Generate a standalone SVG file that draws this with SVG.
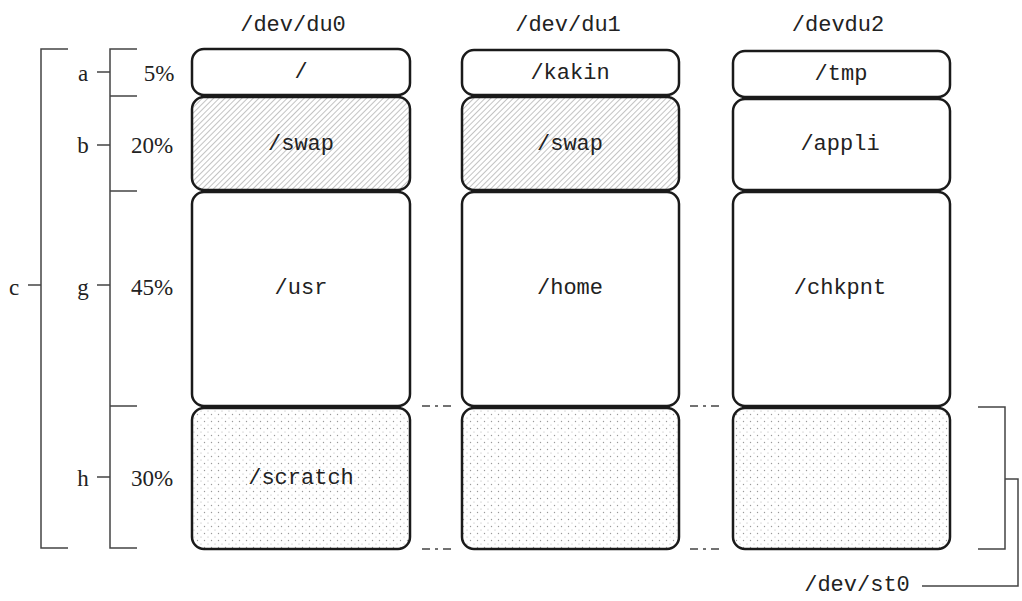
<svg xmlns="http://www.w3.org/2000/svg" width="1022" height="601" viewBox="0 0 1022 601">
<style>
text{font-family:"Liberation Mono","DejaVu Sans Mono",monospace;font-size:22px;fill:#222;text-anchor:middle;dominant-baseline:central}
text.ser{font-family:"Liberation Serif","DejaVu Serif",serif;font-size:23px}
.box{stroke:#1a1a1a;stroke-width:2.5;fill:#fff}
.hatch{fill:url(#hatch)}
.dots{fill:url(#dots)}
.ln{stroke:#444;stroke-width:1.5;fill:none}
.dash{stroke:#444;stroke-width:1.5;fill:none;stroke-dasharray:8 5 3 5}
</style>
<defs>
<pattern id="hatch" width="4" height="4" patternUnits="userSpaceOnUse" patternTransform="rotate(45)">
<rect width="4" height="4" fill="#fff"/>
<line x1="0" y1="0" x2="0" y2="4" stroke="#7a7a7a" stroke-width="0.9"/>
</pattern>
<pattern id="dots" width="7" height="7" patternUnits="userSpaceOnUse">
<rect width="7" height="7" fill="#fff"/>
<circle cx="1.5" cy="1.5" r="0.7" fill="#9a9a9a"/>
<circle cx="5" cy="5" r="0.6" fill="#b0b0b0"/>
</pattern>
</defs>

<g id="titles">
<text x="293" y="25">/dev/du0</text>
<text x="568" y="25">/dev/du1</text>
<text x="838" y="25">/devdu2</text>
</g>

<g id="labels">
<text class="ser" x="83" y="73">a</text>
<text class="ser" x="159" y="73">5%</text>
<text class="ser" x="83" y="145">b</text>
<text class="ser" x="152" y="145">20%</text>
<text class="ser" x="14" y="287">c</text>
<text class="ser" x="83" y="287">g</text>
<text class="ser" x="152" y="287">45%</text>
<text class="ser" x="83" y="478">h</text>
<text class="ser" x="152" y="478">30%</text>
</g>

<g id="connectors">
<path class="ln" d="M68 49 H41 V548 H68"/>
<path class="ln" d="M28 285 H41"/>
<path class="ln" d="M137 49 H110 V548 H137"/>
<path class="ln" d="M110 96 H137 M110 191 H137 M110 406 H137"/>
<path class="ln" d="M97 72 H110 M97 145 H110 M97 285 H110 M97 477 H110"/>
<path class="dash" d="M422 406 H452 M690 406 H720 M422 549 H452 M690 549 H720"/>
<path class="ln" d="M978 407 H1005 V549 H978 M1005 479 H1018 V586 H922"/>
</g>

<g id="du0-root"><rect class="box" x="192" y="49" width="218" height="46" rx="12"/><text x="301" y="72">/</text></g>
<g id="du0-swap"><rect class="box hatch" x="192" y="97" width="218" height="93" rx="12"/><text x="301" y="144">/swap</text></g>
<g id="du0-usr"><rect class="box" x="192" y="192" width="218" height="214" rx="12"/><text x="301" y="288">/usr</text></g>
<g id="du0-scratch"><rect class="box dots" x="192" y="408" width="218" height="141" rx="12"/><text x="301" y="478">/scratch</text></g>

<g id="du1-kakin"><rect class="box" x="462" y="50" width="217" height="45" rx="12"/><text x="570" y="73">/kakin</text></g>
<g id="du1-swap"><rect class="box hatch" x="462" y="97" width="217" height="93" rx="12"/><text x="570" y="144">/swap</text></g>
<g id="du1-home"><rect class="box" x="462" y="192" width="217" height="214" rx="12"/><text x="570" y="288">/home</text></g>
<g id="du1-h"><rect class="box dots" x="462" y="408" width="217" height="141" rx="12"/></g>

<g id="du2-tmp"><rect class="box" x="733" y="51" width="217" height="46" rx="12"/><text x="841" y="74">/tmp</text></g>
<g id="du2-appli"><rect class="box" x="733" y="99" width="217" height="91" rx="12"/><text x="840" y="144">/appli</text></g>
<g id="du2-chkpnt"><rect class="box" x="733" y="192" width="217" height="214" rx="12"/><text x="840" y="288">/chkpnt</text></g>
<g id="du2-h"><rect class="box dots" x="733" y="408" width="217" height="141" rx="12"/></g>

<g id="st0"><text x="857" y="585">/dev/st0</text></g>
</svg>
